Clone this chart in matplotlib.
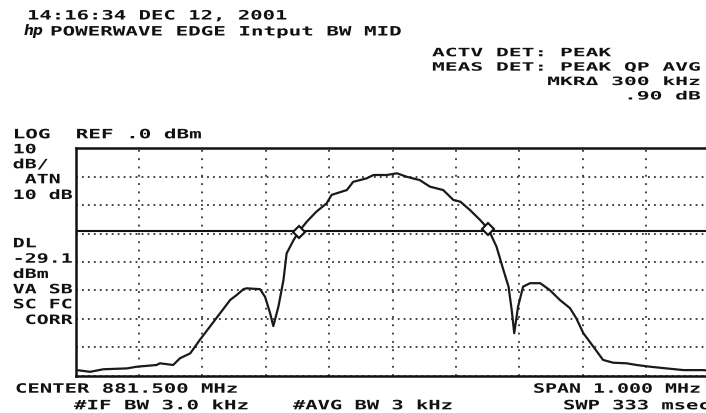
import numpy as np
import matplotlib
matplotlib.use("Agg")
import matplotlib.pyplot as plt
from matplotlib import patheffects
from matplotlib.ticker import MultipleLocator
from matplotlib.transforms import Affine2D

# trace: offset from 881.000 MHz (kHz) and level (dBm)
offset_khz = [0, 2, 23, 44, 81, 97, 128, 133, 154, 165, 181, 196, 212, 228,
              244, 254, 265, 270, 291, 299, 307, 312, 320, 328, 333, 344, 353,
              365, 380, 396, 404, 428, 438, 459, 470, 491, 507, 522, 543, 559,
              580, 596, 607, 622, 638, 651, 664, 675, 683, 688, 692, 698, 706,
              717, 733, 748, 764, 780, 790, 801, 817, 832, 848, 869, 885, 906,
              932, 959, 990, 1000]
level_dbm = [-78.2, -78.1, -78.7, -77.8, -77.5, -76.9, -76.3, -75.7, -76.3,
             -73.9, -72.2, -67.5, -62.8, -58.1, -53.4, -51.7, -49.6, -49.3,
             -49.6, -52.3, -58.1, -62.6, -55.8, -46.4, -37.0, -32.3, -29.1,
             -25.8, -22.3, -19.4, -16.4, -14.7, -11.8, -10.6, -9.4, -9.4, -8.8,
             -10.0, -11.2, -13.5, -14.7, -18.2, -18.8, -21.7, -25.2, -28.4,
             -34.6, -42.9, -48.7, -56.9, -65.1, -55.8, -48.7, -47.5, -47.5,
             -49.9, -53.4, -56.3, -59.9, -65.1, -69.9, -74.5, -75.5, -75.7,
             -76.3, -76.9, -77.5, -78.1, -78.1, -78.3]

marker_khz = [353, 651]
marker_dbm = [-29.3, -28.4]

display_line = -29.1
center_mhz = 881.5
span_mhz = 1.0
ref_dbm = 0.0
db_per_div = 10
n_ydiv = 8

W, H = 706, 413
FS = 9.3


class Stretch(patheffects.AbstractPathEffect):
    # widen glyphs to look like the analyzer's wide screen font
    def __init__(self, sx):
        super().__init__()
        self.sx = sx

    def draw_path(self, renderer, gc, tpath, affine, rgbFace=None):
        renderer.draw_path(gc, tpath, Affine2D().scale(self.sx, 1) + affine, rgbFace)


fig = plt.figure(figsize=(W / 100, H / 100), dpi=100)


def put(x, y, s, pitch=12.5, fs=FS, step=None):
    # x: left edge, y: baseline of first line (pixels from top-left)
    em = fs * 100 / 72
    sx = pitch / (0.602 * em)
    kw = dict(fontsize=fs, family="DejaVu Sans Mono", weight="bold",
              color="#111111", path_effects=[Stretch(sx)])
    if step is None:
        fig.text(x / W, 1 - y / H, s, va="baseline", **kw)
    else:
        asc = 0.76 * em
        fig.text(x / W, 1 - (y - asc) / H, s, va="top",
                 linespacing=step / asc, **kw)


ax = fig.add_axes([75.5 / W, 1 - 375.5 / H, 634 / W, 227.2 / H])
ax.set_xlim(center_mhz - span_mhz / 2, center_mhz + span_mhz / 2)
ax.set_ylim(ref_dbm - n_ydiv * db_per_div, ref_dbm)
ax.xaxis.set_major_locator(MultipleLocator(span_mhz / 10))
ax.yaxis.set_major_locator(MultipleLocator(db_per_div))
ax.tick_params(length=0, labelbottom=False, labelleft=False)
ax.grid(axis="x", color="#333333", lw=1.3, ls=(0, (1, 3.6)))
ax.grid(axis="y", color="#333333", lw=1.3, ls=(0, (1, 2.3)))
ax.set_axisbelow(True)
for side in ["top", "left", "bottom"]:
    ax.spines[side].set_linewidth(1.8)
    ax.spines[side].set_color("#111111")
ax.spines["right"].set_visible(False)

freq = 881.0 + np.array(offset_khz) / 1000
ax.axhline(display_line, color="#111111", lw=1.5, zorder=3)
ax.plot(freq, level_dbm, color="#1a1a1a", lw=1.6, zorder=4)
ax.plot(881.0 + np.array(marker_khz) / 1000, marker_dbm, ls="none", marker="D",
        ms=6.5, mfc="white", mec="#111111", mew=1.5, zorder=5)

# header
put(27, 19.5, "14:16:34 DEC 12, 2001", pitch=12.4)
fig.text(24 / W, 1 - 35.5 / H, "hp", fontsize=10, family="DejaVu Sans",
         weight="bold", style="italic", color="#111111", va="baseline")
put(50, 35.5, "POWERWAVE EDGE Intput BW MID", pitch=12.56)
settings = ("ACTV DET: PEAK\n"
            "MEAS DET: PEAK QP AVG\n"
            "         MKR\u0394 300 kHz\n"
            "               .90 dB")
put(432, 55, settings, pitch=12.8, fs=8.3, step=10)

# left annotation column
put(12.7, 138.3, "LOG  REF .0 dBm", pitch=12.6)
left_lines = [("10", 153.3), ("dB/", 168.3), (" ATN", 183.3), ("10 dB", 199),
              ("DL", 247.3), ("-29.1", 262.7), ("dBm", 278), ("VA SB", 293.3),
              ("SC FC", 308.3), (" CORR", 324)]
for s, y in left_lines:
    put(12.7, y, s, pitch=12.0)

# footer
put(15, 392.7, "CENTER 881.500 MHz", pitch=12.4)
put(74, 409.3, "#IF BW 3.0 kHz", pitch=12.5)
put(293, 409.3, "#AVG BW 3 kHz", pitch=12.3)
put(533, 392.7, "SPAN 1.000 MHz", pitch=12.0)
put(563, 409.3, "SWP 333 msec", pitch=12.3)

fig.savefig("out.png", dpi=100)
